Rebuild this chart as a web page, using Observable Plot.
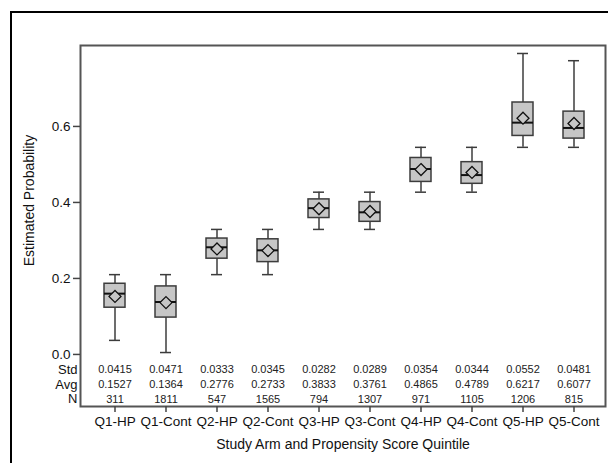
<!DOCTYPE html>
<html>
<head>
<meta charset="utf-8">
<script src="https://cdn.jsdelivr.net/npm/d3@7"></script>
<script src="https://cdn.jsdelivr.net/npm/@observablehq/plot@0.6"></script>
<style>
  html, body { margin: 0; padding: 0; background: #fff; overflow: hidden; }
  #wrap { position: relative; width: 608px; height: 463px; overflow: hidden; }
  #outer { position: absolute; left: 10px; top: 11px; width: 700px; height: 600px; border: 2px solid #000; pointer-events: none; }
  #chart { position: absolute; left: 0; top: 0; }
</style>
</head>
<body>
<div id="wrap"><div id="outer"></div><div id="chart"></div></div>
<script>
const categories = ["Q1-HP","Q1-Cont","Q2-HP","Q2-Cont","Q3-HP","Q3-Cont","Q4-HP","Q4-Cont","Q5-HP","Q5-Cont"];
const whiskerLow  = [0.037, 0.005, 0.210, 0.210, 0.329, 0.329, 0.427, 0.427, 0.545, 0.545];
const q1          = [0.123, 0.097, 0.252, 0.243, 0.359, 0.349, 0.454, 0.449, 0.575, 0.568];
const median      = [0.160, 0.138, 0.282, 0.274, 0.385, 0.374, 0.488, 0.472, 0.610, 0.596];
const q3          = [0.186, 0.179, 0.305, 0.303, 0.408, 0.401, 0.517, 0.506, 0.663, 0.639];
const whiskerHigh = [0.210, 0.210, 0.329, 0.329, 0.427, 0.427, 0.545, 0.545, 0.792, 0.773];
const stdVals = [0.0415, 0.0471, 0.0333, 0.0345, 0.0282, 0.0289, 0.0354, 0.0344, 0.0552, 0.0481];
const avgVals = [0.1527, 0.1364, 0.2776, 0.2733, 0.3833, 0.3761, 0.4865, 0.4789, 0.6217, 0.6077];
const nVals   = [311, 1811, 547, 1565, 794, 1307, 971, 1105, 1206, 815];
const rowLabels = ["Std", "Avg", "N"];
const yTicks = [0, 0.2, 0.4, 0.6];
const yTitle = "Estimated Probability";
const xTitle = "Study Arm and Propensity Score Quintile";

const f4 = d3.format(".4f");
const rowY = [-0.040, -0.079, -0.118];   // table row positions below zero
const rows = categories.map((c, i) => ({
  cat: c, lo: whiskerLow[i], q1: q1[i], med: median[i], q3: q3[i], hi: whiskerHigh[i],
  mean: avgVals[i], std: stdVals[i], n: nVals[i]
}));
const table = [];
rows.forEach(r => {
  table.push({cat: r.cat, y: rowY[0], t: f4(r.std)});
  table.push({cat: r.cat, y: rowY[1], t: f4(r.mean)});
  table.push({cat: r.cat, y: rowY[2], t: String(r.n)});
});

const boxFill = "#c6c6c6", boxStroke = "#3c3c3c";
const font = "'Liberation Sans', Arial, sans-serif";

const chart = Plot.plot({
  width: 608,
  height: 463,
  marginLeft: 80,
  marginTop: 45,
  marginRight: 3,
  marginBottom: 57,
  style: {fontFamily: font, background: "transparent", color: "#111"},
  x: {type: "band", domain: categories, range: [86, 602], padding: 0, label: null},
  y: {domain: [-0.137, 0.813], ticks: yTicks, tickFormat: d3.format(".1f"), label: null},
  marks: [
    Plot.frame({stroke: "#555", strokeWidth: 2}),
    Plot.axisY({ticks: yTicks, tickFormat: d3.format(".1f"), tickSize: 7, tickPadding: 3, fontSize: 13.5, label: null, stroke: "#444", strokeWidth: 1.5}),
    Plot.axisX({tickSize: 6, tickPadding: 4, fontSize: 13.5, label: null, stroke: "#444", strokeWidth: 1.5}),
    Plot.ruleX(rows, {x: "cat", y1: "lo", y2: "hi", stroke: boxStroke, strokeWidth: 1.5}),
    Plot.tickY(rows, {x: "cat", y: "lo", insetLeft: 20, insetRight: 20, stroke: boxStroke, strokeWidth: 1.5}),
    Plot.tickY(rows, {x: "cat", y: "hi", insetLeft: 20, insetRight: 20, stroke: boxStroke, strokeWidth: 1.5}),
    Plot.barY(rows, {x: "cat", y1: "q1", y2: "q3", insetLeft: 15, insetRight: 15, fill: boxFill, stroke: boxStroke, strokeWidth: 1.5}),
    Plot.tickY(rows, {x: "cat", y: "med", insetLeft: 15, insetRight: 15, stroke: "#111", strokeWidth: 2}),
    Plot.dot(rows, {x: "cat", y: "mean", symbol: "diamond2", r: 5.4, stroke: "#111", strokeWidth: 1.3, fill: boxFill}),
    Plot.text(table, {x: "cat", y: "y", text: "t", fontSize: 11, fill: "#222"}),
    Plot.text(rowLabels, {y: rowY, text: d => d, frameAnchor: "left", textAnchor: "end", dx: -3, fontSize: 13, fill: "#111"}),
    Plot.text([yTitle], {y: [0.405], text: d => d, frameAnchor: "left", textAnchor: "middle", dx: -51, rotate: -90, fontSize: 14, fill: "#111"}),
    Plot.text([xTitle], {frameAnchor: "bottom", text: d => d, dy: 42, fontSize: 14, fill: "#111"})
  ]
});
document.getElementById("chart").appendChild(chart);
</script>
</body>
</html>
